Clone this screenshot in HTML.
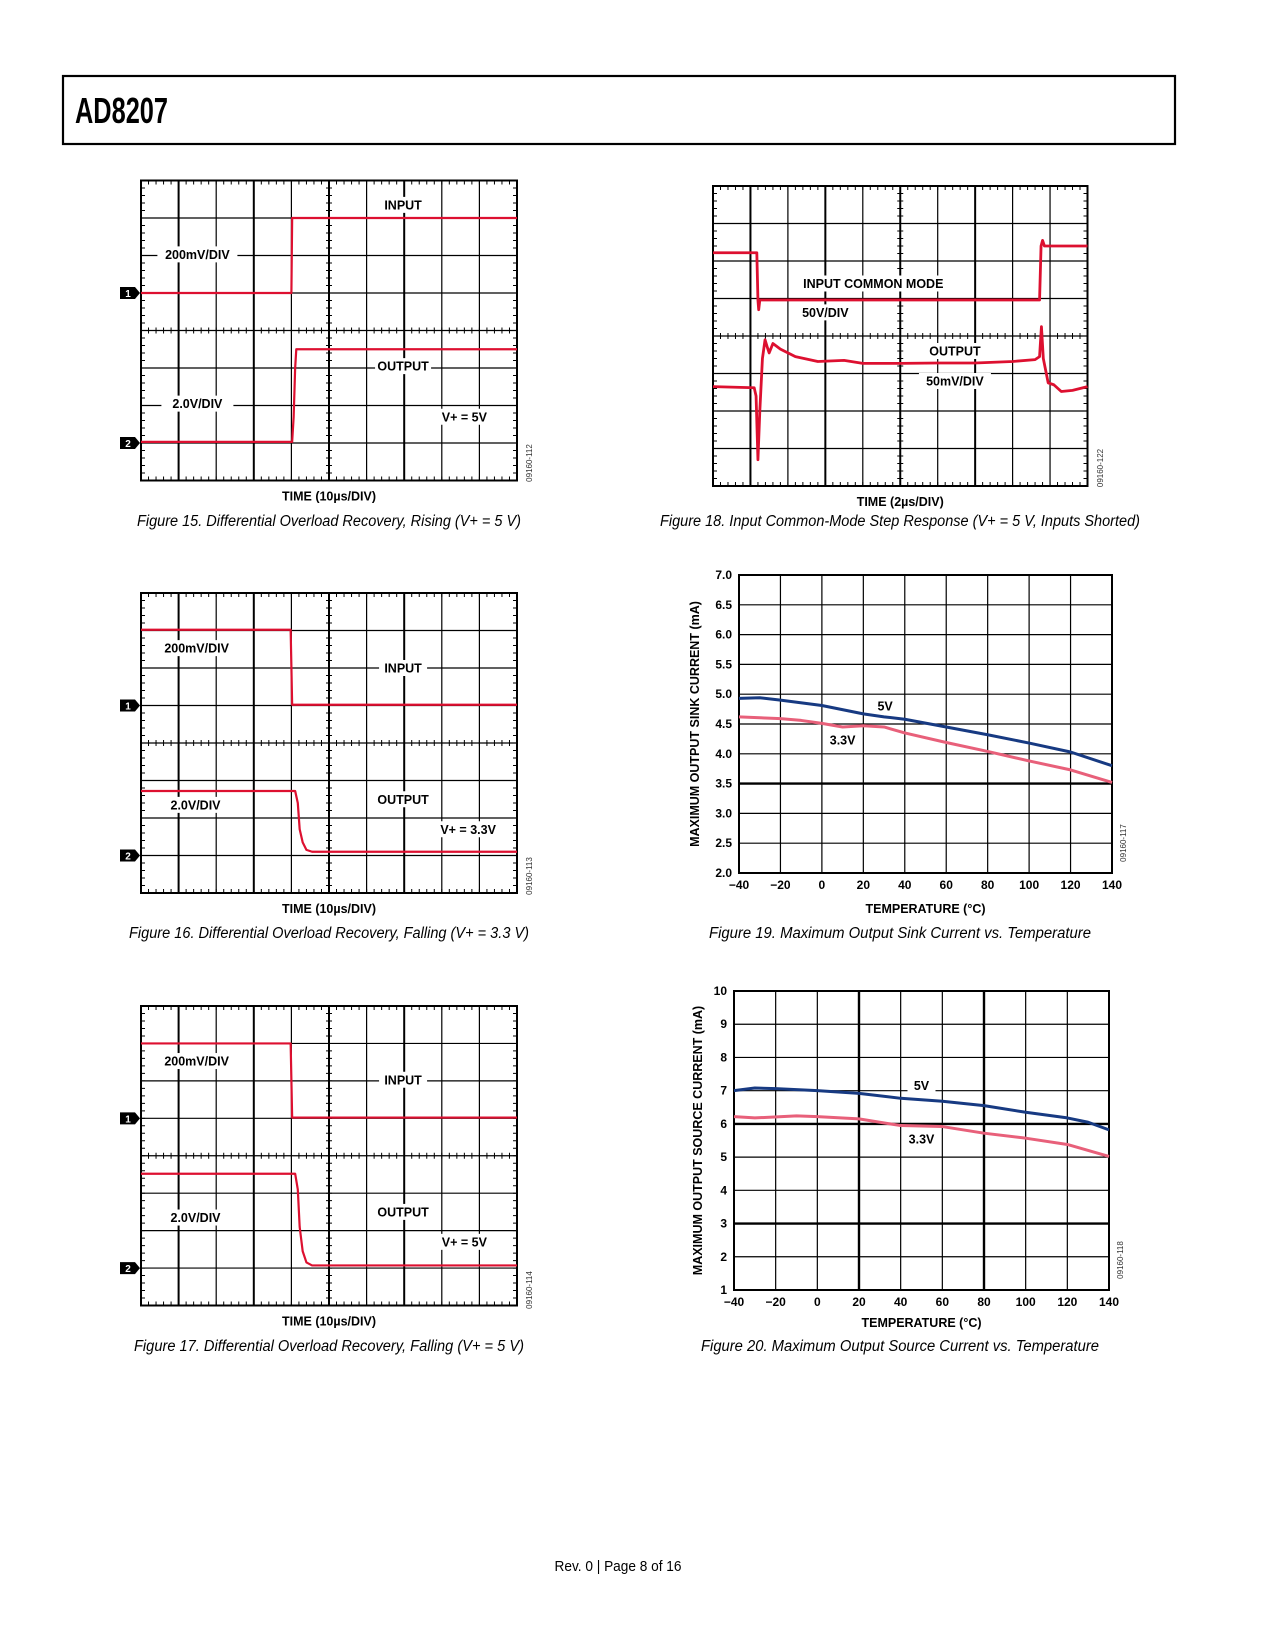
<!DOCTYPE html>
<html><head><meta charset="utf-8"><style>
html,body{margin:0;padding:0;background:#fff;}
svg{display:block;font-family:"Liberation Sans",sans-serif;}
</style></head><body>
<svg id="page" width="1275" height="1650" viewBox="0 0 1275 1650" xmlns="http://www.w3.org/2000/svg">
<rect x="0" y="0" width="1275" height="1650" fill="#fff"/>
<rect x="63" y="76" width="1112" height="68" fill="none" stroke="#000" stroke-width="2.2"/>
<text x="75" y="123" font-size="36" font-weight="bold" textLength="93" lengthAdjust="spacingAndGlyphs">AD8207</text>
<text x="618" y="1571" font-size="15" text-anchor="middle" textLength="127" lengthAdjust="spacingAndGlyphs">Rev. 0 | Page 8 of 16</text>
<g id="content"></g>
</svg>
<script>
// ---------- Data ----------
// Scope traces: [time in divisions, level in divisions from top]
const fig15Input = [[0,3.0],[4.0,3.0],[4.02,1.0],[10,1.0]];
const fig15Output = [[0,6.97],[4.02,6.97],[4.06,6.3],[4.1,5.0],[4.13,4.5],[10,4.5]];
const fig16Input = [[0,0.98],[3.98,0.98],[4.02,2.98],[10,2.98]];
const fig16Output = [[0,5.28],[4.1,5.28],[4.17,5.6],[4.22,6.3],[4.3,6.65],[4.4,6.85],[4.55,6.9],[10,6.9]];
const fig17Input = [[0,1.0],[3.98,1.0],[4.02,2.98],[10,2.98]];
const fig17Output = [[0,4.48],[4.1,4.48],[4.17,4.9],[4.22,5.9],[4.3,6.55],[4.4,6.85],[4.55,6.93],[10,6.93]];
const fig18Input = [[0,1.78],[1.17,1.78],[1.2,3.04],[1.22,3.3],[1.25,3.04],[8.72,3.04],[8.76,1.6],[8.8,1.45],[8.85,1.6],[10,1.6]];
const fig18Output = [[0,5.35],[1.1,5.38],[1.15,5.6],[1.2,7.3],[1.25,6.0],[1.32,4.6],[1.39,4.1],[1.45,4.3],[1.5,4.45],[1.6,4.2],[1.8,4.35],[2.2,4.55],[2.8,4.68],[3.5,4.65],[4.0,4.73],[5.0,4.73],[6.0,4.72],[7.0,4.72],[8.0,4.68],[8.6,4.63],[8.72,4.55],[8.77,3.75],[8.82,4.6],[8.95,5.25],[9.1,5.3],[9.3,5.48],[9.6,5.45],[10,5.35]];
// Fig 19: sink current vs temperature
const fig19Temps5V = [-40,-30,-20,0,20,30,40,60,80,100,120,140];
const fig19Sink5V = [4.93,4.94,4.90,4.81,4.67,4.62,4.58,4.45,4.32,4.18,4.03,3.80];
const fig19Temps33V = [-40,-20,-10,0,10,20,30,40,60,80,100,120,140];
const fig19Sink33V = [4.62,4.59,4.56,4.51,4.45,4.47,4.45,4.35,4.19,4.04,3.88,3.73,3.52];
const fig19XTicks = ["\u221240","\u221220","0","20","40","60","80","100","120","140"];
const fig19YTicks = ["2.0","2.5","3.0","3.5","4.0","4.5","5.0","5.5","6.0","6.5","7.0"];
// Fig 20: source current vs temperature
const fig20Temps5V = [-40,-30,-20,0,20,40,60,80,100,120,130,140];
const fig20Source5V = [7.0,7.08,7.06,7.0,6.92,6.77,6.68,6.55,6.35,6.18,6.05,5.82];
const fig20Temps33V = [-40,-30,-10,0,20,40,60,80,100,120,140];
const fig20Source33V = [6.22,6.18,6.24,6.22,6.15,5.95,5.92,5.72,5.57,5.38,5.02];
const fig20XTicks = ["\u221240","\u221220","0","20","40","60","80","100","120","140"];
const fig20YTicks = ["1","2","3","4","5","6","7","8","9","10"];

const NS = "http://www.w3.org/2000/svg";
const root = document.getElementById('content');
function mk(tag, attrs, parent) {
  const e = document.createElementNS(NS, tag);
  for (const k in attrs) e.setAttribute(k, attrs[k]);
  (parent || root).appendChild(e);
  return e;
}
function txt(x, y, s, size, opts, parent) {
  const e = mk('text', Object.assign({x: x, y: y, 'font-size': size}, opts || {}), parent);
  e.textContent = s;
  return e;
}
const RED = "#dd1030";

function scope(id, x0, y0, w, h) {
  const g = mk('g', {});
  
  
  const dx = w / 10, dy = h / 8;
  for (let i = 1; i < 10; i++) {
    const l = mk('line', {x1: x0 + i*dx, y1: y0, x2: x0 + i*dx, y2: y0 + h, stroke: '#000', 'stroke-width': (i % 2 === 1 && i < 9) ? 2 : 1.2}, g);
    
    
  }
  for (let j = 1; j < 8; j++) {
    const l = mk('line', {x1: x0, y1: y0 + j*dy, x2: x0 + w, y2: y0 + j*dy, stroke: '#000', 'stroke-width': 1.2}, g);
    
    
  }
  let d = '';
  for (let k = 1; k < 50; k++) {
    const x = x0 + k*dx/5;
    d += `M${x} ${y0}v4M${x} ${y0+h}v-4M${x} ${y0+h/2-3}v6`;
  }
  for (let k = 1; k < 40; k++) {
    const y = y0 + k*dy/5;
    d += `M${x0} ${y}h4M${x0+w} ${y}h-4M${x0+w/2-3} ${y}h6`;
  }
  const t = mk('path', {d: d, stroke: '#000', 'stroke-width': 1}, g);
  
  
  const b = mk('rect', {x: x0, y: y0, width: w, height: h, fill: 'none', stroke: '#000', 'stroke-width': 2}, g);
  
  
  return {g: g, X: v => x0 + v*dx, Y: v => y0 + v*dy, x0: x0, y0: y0, w: w, h: h};
}
function trace(sc, arr, name, sw) {
  const p = mk('polyline', {points: arr.map(a => sc.X(a[0]) + ',' + sc.Y(a[1])).join(' '), fill: 'none', stroke: RED, 'stroke-width': sw || 2.2, 'stroke-linejoin': 'round'}, sc.g);
  
  
}
function label(sc, xd, yd, s, name) {
  const w = s.length * 8 + 8;
  const r = mk('rect', {x: sc.X(xd) - w/2, y: sc.Y(yd) - 8, width: w, height: 16, fill: '#fff'}, sc.g);
  
  
  const t = txt(sc.X(xd), sc.Y(yd) + 4.5, s, 12.5, {'text-anchor': 'middle', 'font-weight': 'bold'}, sc.g);
  
  
}
function marker(sc, yd, n) {
  const y = sc.Y(yd), x = sc.x0;
  const p = mk('path', {d: `M${x-21} ${y-6}h15l5 6l-5 6h-15z`, fill: '#000'}, sc.g);
  
  
  const t = txt(x - 13, y + 4, String(n), 10, {'text-anchor': 'middle', 'font-weight': 'bold', fill: '#fff'}, sc.g);
  
  
}
function sideId(x, y, s) {
  const t = txt(0, 0, s, 8, {transform: `translate(${x},${y}) rotate(-90)`, 'text-anchor': 'middle', fill: '#333'});
  
  
}
function caption(cx, y, s, w) {
  const t = txt(cx, y, s, 15.5, {'text-anchor': 'middle', 'font-style': 'italic', textLength: w, lengthAdjust: 'spacingAndGlyphs'});
  
  
}
function timeLabel(sc, s) {
  const t = txt(sc.x0 + sc.w/2, sc.y0 + sc.h + 20, s, 12.5, {'text-anchor': 'middle', 'font-weight': 'bold'});
  
  
}

// Fig 15
let s15 = scope('fig15-scope', 141, 180.5, 376, 300);
trace(s15, fig15Input, 'fig15-input-trace');
trace(s15, fig15Output, 'fig15-output-trace');
label(s15, 6.97, 0.65, 'INPUT', 'input-label');
label(s15, 1.5, 1.97, '200mV/DIV', 'input-scale-label');
label(s15, 6.97, 4.95, 'OUTPUT', 'output-label');
label(s15, 1.5, 5.95, '2.0V/DIV', 'output-scale-label');
label(s15, 8.6, 6.3, 'V+ = 5V', 'supply-label');
marker(s15, 3, 1); marker(s15, 7, 2);
timeLabel(s15, 'TIME (10\u00b5s/DIV)');
sideId(532, 463, '09160-112');
caption(329, 526, 'Figure 15. Differential Overload Recovery, Rising (V+ = 5 V)', 384);

// Fig 16
let s16 = scope('fig16-scope', 141, 593, 376, 300);
trace(s16, fig16Input, 'fig16-input-trace');
trace(s16, fig16Output, 'fig16-output-trace');
label(s16, 1.48, 1.47, '200mV/DIV', 'input-scale-label');
label(s16, 6.97, 2.0, 'INPUT', 'input-label');
label(s16, 6.97, 5.5, 'OUTPUT', 'output-label');
label(s16, 1.45, 5.65, '2.0V/DIV', 'output-scale-label');
label(s16, 8.7, 6.3, 'V+ = 3.3V', 'supply-label');
marker(s16, 3, 1); marker(s16, 7, 2);
timeLabel(s16, 'TIME (10\u00b5s/DIV)');
sideId(532, 876, '09160-113');
caption(329, 938, 'Figure 16. Differential Overload Recovery, Falling (V+ = 3.3 V)', 400);

// Fig 17
let s17 = scope('fig17-scope', 141, 1006, 376, 299.5);
trace(s17, fig17Input, 'fig17-input-trace');
trace(s17, fig17Output, 'fig17-output-trace');
label(s17, 1.48, 1.47, '200mV/DIV', 'input-scale-label');
label(s17, 6.97, 1.97, 'INPUT', 'input-label');
label(s17, 6.97, 5.5, 'OUTPUT', 'output-label');
label(s17, 1.45, 5.65, '2.0V/DIV', 'output-scale-label');
label(s17, 8.6, 6.3, 'V+ = 5V', 'supply-label');
marker(s17, 3, 1); marker(s17, 7, 2);
timeLabel(s17, 'TIME (10\u00b5s/DIV)');
sideId(532, 1290, '09160-114');
caption(329, 1351, 'Figure 17. Differential Overload Recovery, Falling (V+ = 5 V)', 390);

// Fig 18
let s18 = scope('fig18-scope', 713, 186, 374.5, 300);
trace(s18, fig18Input, 'fig18-input-trace', 2.8);
trace(s18, fig18Output, 'fig18-output-trace', 2.8);
label(s18, 4.28, 2.6, 'INPUT COMMON MODE', 'input-label');
label(s18, 3.0, 3.37, '50V/DIV', 'input-scale-label');
label(s18, 6.46, 4.4, 'OUTPUT', 'output-label');
label(s18, 6.46, 5.2, '50mV/DIV', 'output-scale-label');
timeLabel(s18, 'TIME (2\u00b5s/DIV)');
sideId(1103, 468, '09160-122');
caption(900, 526, 'Figure 18. Input Common-Mode Step Response (V+ = 5 V, Inputs Shorted)', 480);

// XY charts
function xyChart(cfg) {
  const g = mk('g', {});
  
  
  const X = v => cfg.x0 + (v - cfg.xmin) / (cfg.xmax - cfg.xmin) * cfg.w;
  const Y = v => cfg.y0 + cfg.h - (v - cfg.ymin) / (cfg.ymax - cfg.ymin) * cfg.h;
  const nx = cfg.xTicks.length - 1, ny = cfg.yTicks.length - 1;
  for (let i = 1; i < nx; i++) {
    const v = cfg.xmin + i * (cfg.xmax - cfg.xmin) / nx;
    const l = mk('line', {x1: X(v), y1: cfg.y0, x2: X(v), y2: cfg.y0 + cfg.h, stroke: '#000', 'stroke-width': cfg.thickX.includes(v) ? 2.4 : 1.2}, g);
    
    
  }
  for (let j = 1; j < ny; j++) {
    const v = cfg.ymin + j * (cfg.ymax - cfg.ymin) / ny;
    const l = mk('line', {x1: cfg.x0, y1: Y(v), x2: cfg.x0 + cfg.w, y2: Y(v), stroke: '#000', 'stroke-width': cfg.thickY.includes(+v.toFixed(2)) ? 2.4 : 1.2}, g);
    
    
  }
  const b = mk('rect', {x: cfg.x0, y: cfg.y0, width: cfg.w, height: cfg.h, fill: 'none', stroke: '#000', 'stroke-width': 2}, g);
  
  
  cfg.xTicks.forEach((s, i) => {
    const t = txt(cfg.x0 + i * cfg.w / nx, cfg.y0 + cfg.h + 16, s, 12, {'text-anchor': 'middle', 'font-weight': 'bold'}, g);
    
    
  });
  cfg.yTicks.forEach((s, j) => {
    const t = txt(cfg.x0 - 7, cfg.y0 + cfg.h - j * cfg.h / ny + 4, s, 12, {'text-anchor': 'end', 'font-weight': 'bold'}, g);
    
    
  });
  const xt = txt(cfg.x0 + cfg.w/2, cfg.xTitleY, 'TEMPERATURE (\u00b0C)', 12.5, {'text-anchor': 'middle', 'font-weight': 'bold'}, g);
  
  
  const yt = txt(0, 0, cfg.yTitle, 12.5, {'text-anchor': 'middle', 'font-weight': 'bold', transform: `translate(${cfg.yTitleX},${cfg.y0 + cfg.h/2}) rotate(-90)`}, g);
  
  
  function line(xs, ys, color, name) {
    const p = mk('polyline', {points: xs.map((x, i) => X(x) + ',' + Y(ys[i])).join(' '), fill: 'none', stroke: color, 'stroke-width': 3, 'stroke-linejoin': 'round'}, g);
    
    
  }
  line(cfg.x33, cfg.y33, '#e8607a', 'series-3v3');
  line(cfg.x5, cfg.y5, '#173a82', 'series-5v');
  cfg.labels.forEach(L => {
    if (L.bg) {
      const r = mk('rect', {x: X(L.x) - 14, y: Y(L.y) - 9, width: 28, height: 18, fill: '#fff'}, g);
      
      
    }
    const t = txt(X(L.x), Y(L.y) + 4.5, L.s, 12.5, {'text-anchor': 'middle', 'font-weight': 'bold'}, g);
    
    
  });
  const id = txt(0, 0, cfg.id, 8, {'text-anchor': 'middle', fill: '#333', transform: `translate(${cfg.x0 + cfg.w + 14},${cfg.y0 + cfg.h - 30}) rotate(-90)`}, g);
  
  
}
xyChart({name: 'fig19-chart', x0: 739, y0: 575, w: 373, h: 298, xmin: -40, xmax: 140, ymin: 2, ymax: 7,
  xTicks: fig19XTicks, yTicks: fig19YTicks, thickX: [], thickY: [3.5],
  x5: fig19Temps5V, y5: fig19Sink5V, x33: fig19Temps33V, y33: fig19Sink33V,
  xTitleY: 913, yTitle: 'MAXIMUM OUTPUT SINK CURRENT (mA)', yTitleX: 699, id: '09160-117',
  labels: [{x: 30.5, y: 4.8, s: '5V', name: 'series-5v-label'}, {x: 10, y: 4.23, s: '3.3V', name: 'series-3v3-label'}]});
caption(900, 938, 'Figure 19. Maximum Output Sink Current vs. Temperature', 382);
xyChart({name: 'fig20-chart', x0: 734, y0: 991, w: 375, h: 299, xmin: -40, xmax: 140, ymin: 1, ymax: 10,
  xTicks: fig20XTicks, yTicks: fig20YTicks, thickX: [20, 80], thickY: [3, 6],
  x5: fig20Temps5V, y5: fig20Source5V, x33: fig20Temps33V, y33: fig20Source33V,
  xTitleY: 1327, yTitle: 'MAXIMUM OUTPUT SOURCE CURRENT (mA)', yTitleX: 702, id: '09160-118',
  labels: [{x: 50, y: 7.15, s: '5V', name: 'series-5v-label', bg: true}, {x: 50, y: 5.55, s: '3.3V', name: 'series-3v3-label'}]});
caption(900, 1351, 'Figure 20. Maximum Output Source Current vs. Temperature', 398);
</script>
</body></html>
